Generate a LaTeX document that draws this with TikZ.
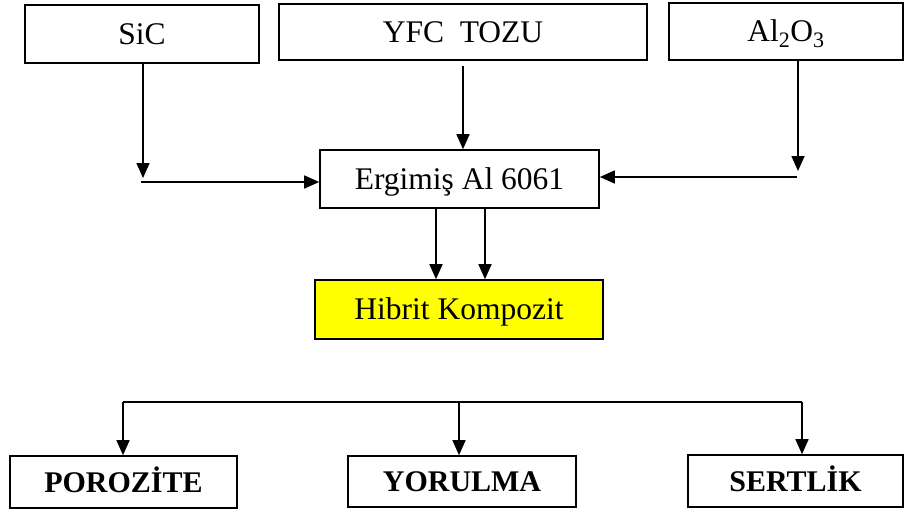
\documentclass[tikz,border=0pt]{standalone}
\usepackage{fontspec}
\setmainfont{Liberation Serif}
\usetikzlibrary{arrows.meta}
\definecolor{boxyellow}{RGB}{255,255,0}
\begin{document}
\begin{tikzpicture}[x=1pt,y=-1pt,
  box/.style={draw=black,line width=1.6pt,rectangle,inner sep=0pt,
    text height=20.8pt,text depth=0pt,
    font=\fontsize{31.5}{36}\selectfont},
  bbox/.style={box,text height=20.3pt,font=\fontsize{30}{36}\selectfont\bfseries},
  conn/.style={line width=1.6pt,black},
  arr/.style={conn,-{Triangle[length=15pt,width=13pt]}}]
\useasboundingbox[fill=white] (0,0) rectangle (910,514);
% top row
\node[box,minimum width=234pt,minimum height=58pt] (sic) at (142,34) {SiC};
\node[box,minimum width=368pt,minimum height=56pt] (yfc) at (463,32) {YFC\ \ TOZU};
\node[box,minimum width=234pt,minimum height=57pt] (alo) at (786,31.5) {Al\textsubscript{2}O\textsubscript{3}};
% middle
\node[box,minimum width=279pt,minimum height=58pt] (erg) at (459.5,179) {Ergimiş Al 6061};
\node[box,fill=boxyellow,minimum width=288pt,minimum height=59pt] (hib) at (459,309.5) {Hibrit Kompozit};
% bottom row
\node[bbox,minimum width=227pt,minimum height=52pt] (por) at (123.5,482) {POROZİTE};
\node[bbox,minimum width=228pt,minimum height=51pt] (yor) at (462,481.5) {YORULMA};
\node[bbox,minimum width=215pt,minimum height=52pt] (ser) at (795.5,481) {SERTLİK};
% coordinates
\coordinate (sicend) at (143,178);
\coordinate (sicstart) at (141,182);
\coordinate (yfcstart) at (463,66);
\coordinate (aloend) at (798,171);
\coordinate (alostart) at (797,177);
\coordinate (h1) at (436,208);
\coordinate (h2) at (485,208);
\coordinate (b1) at (123,402);
\coordinate (b2) at (459,402);
\coordinate (b3) at (802,402);
% connectors
\draw[arr] (sic.south -| sicend) -- (sicend);
\draw[arr] (sicstart) -- (sicstart -| erg.west);
\draw[arr] (yfcstart) -- (yfcstart |- erg.north);
\draw[arr] (alo.south -| aloend) -- (aloend);
\draw[arr] (alostart) -- (alostart -| erg.east);
\draw[arr] (erg.south -| h1) -- (hib.north -| h1);
\draw[arr] (erg.south -| h2) -- (hib.north -| h2);
\draw[conn] (b1) -- (b3);
\draw[arr] (b1) -- (b1 |- por.north);
\draw[arr] (b2) -- (b2 |- yor.north);
\draw[arr] (b3) -- (b3 |- ser.north);
\end{tikzpicture}
\end{document}
